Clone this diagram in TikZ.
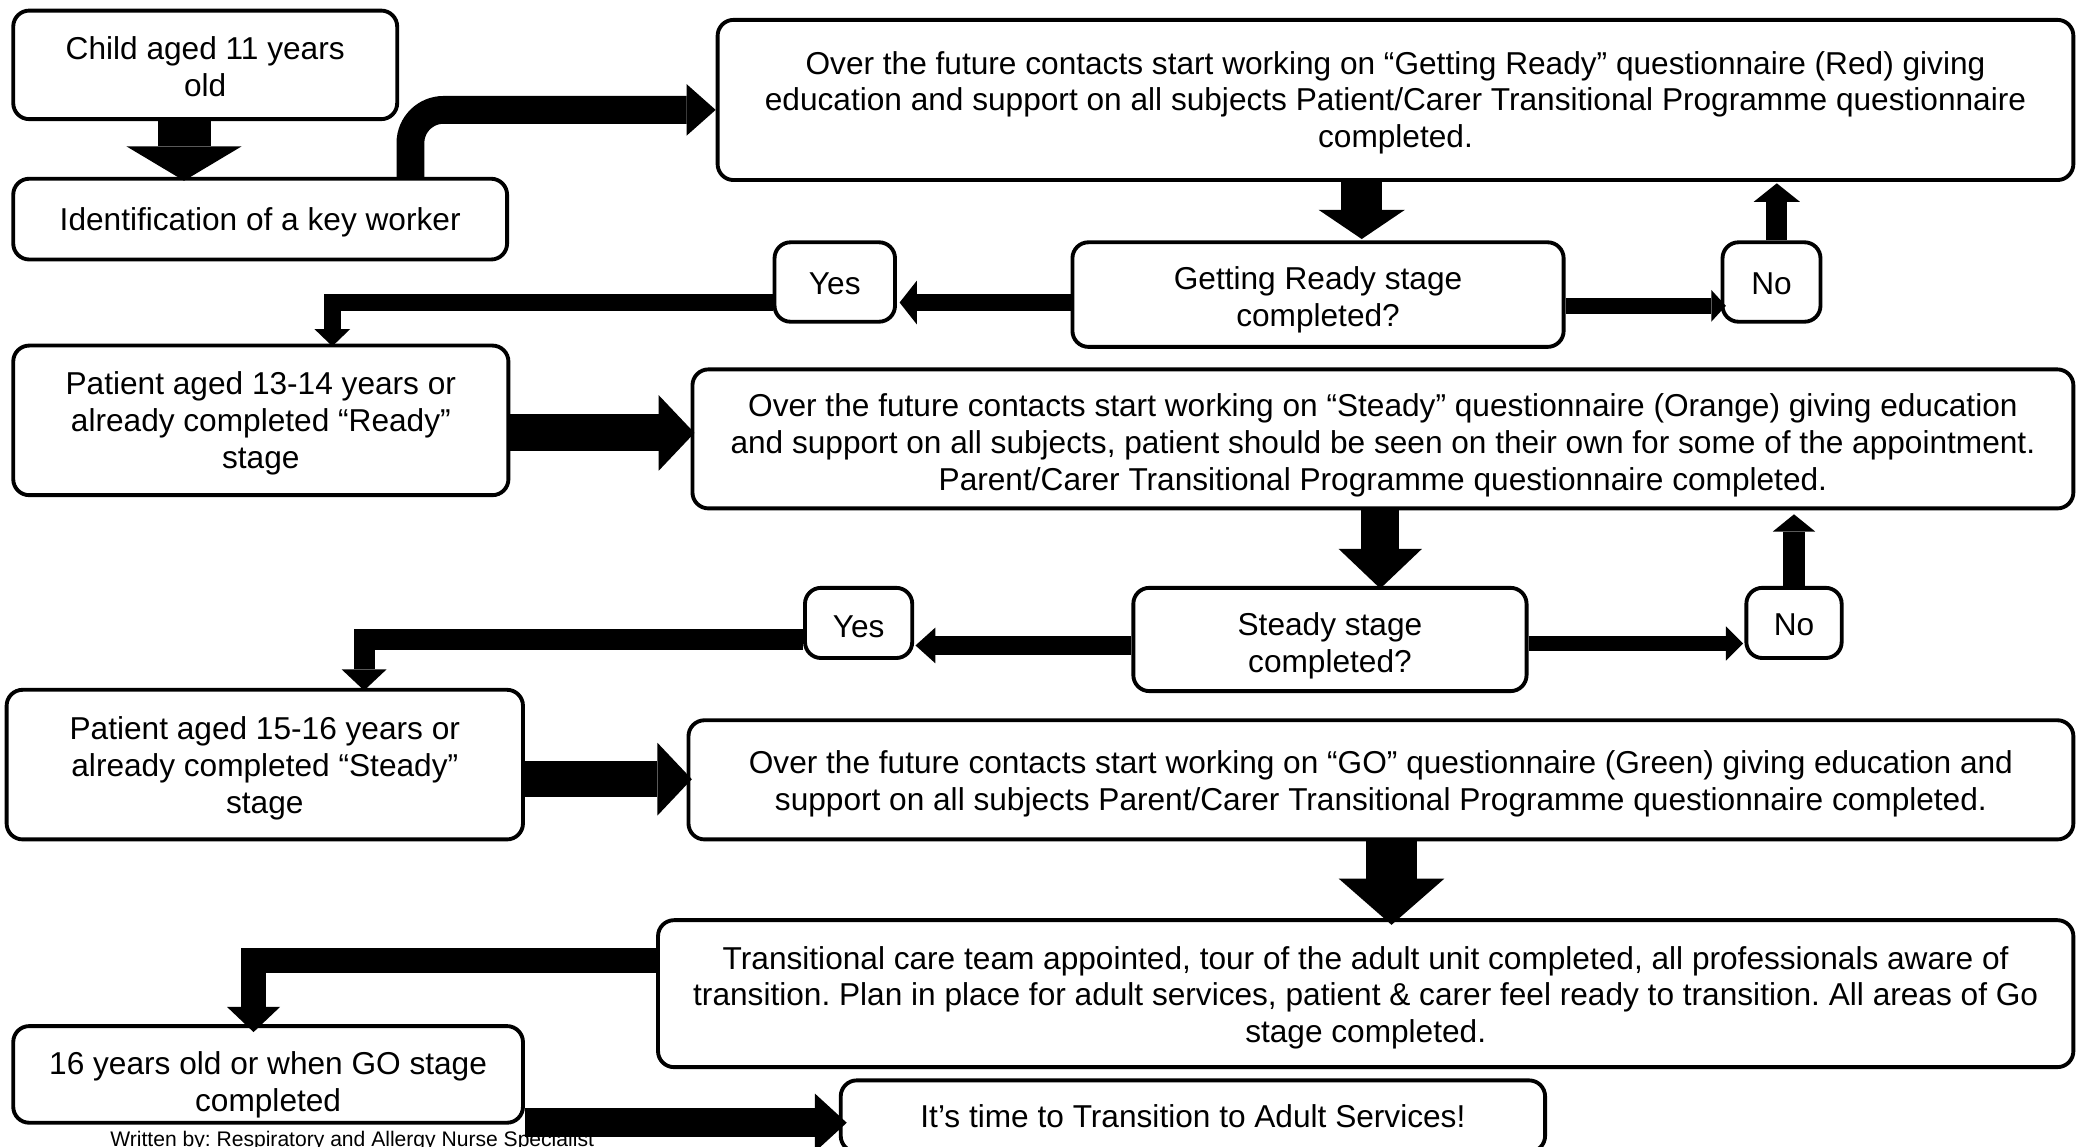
\documentclass[tikz,border=0pt]{standalone}
\usepackage{fontspec}
\setmainfont{Liberation Sans}
\usetikzlibrary{arrows.meta,calc}
\frenchspacing
\newlength\pxu
\setlength\pxu{0.1324mm}
\tikzset{
  box/.style={draw, line width=1.1pt, rounded corners=1.6mm, align=center, inner sep=0pt,
    font=\fontsize{9}{10.5}\selectfont},
  down/.code 2 args={%
    \pgfmathsetmacro\dnh{6.6+(#1-1)*10.5+#2*0.753414}%
    \edef\dntmp{\noexpand\tikzset{text height=\dnh pt}}%
    \dntmp},
  fat/.code n args={3}{%
    \pgfmathsetmacro\fatw{#1*0.376707}%
    \pgfmathsetmacro\fath{#2*0.376707}%
    \pgfmathsetmacro\fatl{#3*0.376707}%
    \edef\fattmp{\noexpand\tikzset{line width=\fatw pt,
      -{Triangle[width=\fath pt, length=\fatl pt, line width=0pt]}}}%
    \fattmp},
}
\begin{document}
\begin{tikzpicture}[x=0.1324mm, y=-0.1324mm]
    \useasboundingbox (0,0) rectangle (1568,866);
    \clip (0,0) rectangle (1568,866);

    \node[box, down={2}{1}, minimum width=290\pxu, minimum height=82\pxu] (child) at (155,49) {Child aged 11 years\\old};
    \node[box, down={1}{2}, minimum width=373\pxu, minimum height=61\pxu] (key) at (196.5,165.5) {Identification of a key worker};
    \node[box, down={3}{2}, minimum width=1024\pxu, minimum height=121\pxu] (r1) at (1054,75.5) {Over the future contacts start working on “Getting Ready” questionnaire (Red) giving\\education and support on all subjects Patient/Carer Transitional Programme questionnaire\\completed.};
    \node[box, down={2}{4}, minimum width=371\pxu, minimum height=79\pxu] (grs) at (995.5,222.5) {Getting Ready stage\\completed?};
    \node[box, down={1}{1}, minimum width=91\pxu, minimum height=60\pxu] (yes1) at (630.5,213) {Yes};
    \node[box, down={1}{1}, minimum width=74\pxu, minimum height=60\pxu] (no1) at (1338,213) {No};

    \node[box, down={3}{2}, minimum width=374\pxu, minimum height=113\pxu] (p13) at (197,317.5) {Patient aged 13-14 years or\\already completed “Ready”\\stage};
    \node[box, down={3}{5}, minimum width=1043\pxu, minimum height=105\pxu] (r2) at (1044.5,331.5) {Over the future contacts start working on “Steady” questionnaire (Orange) giving education\\and support on all subjects, patient should be seen on their own for some of the appointment.\\Parent/Carer Transitional Programme questionnaire completed.};
    \node[box, down={2}{5}, minimum width=297\pxu, minimum height=78\pxu] (sts) at (1004.5,483) {Steady stage\\completed?};
    \node[box, down={1}{2}, minimum width=81\pxu, minimum height=53\pxu] (yes2) at (648.5,470.5) {Yes};
    \node[box, down={1}{1}, minimum width=72\pxu, minimum height=53\pxu] (no2) at (1355,470.5) {No};

    \node[box, down={3}{3}, minimum width=390\pxu, minimum height=113\pxu] (p15) at (200,577.5) {Patient aged 15-16 years or\\already completed “Steady”\\stage};
    \node[box, down={2}{3}, minimum width=1046\pxu, minimum height=90\pxu] (r3) at (1043,589) {Over the future contacts start working on “GO” questionnaire (Green) giving education and\\support on all subjects Parent/Carer Transitional Programme questionnaire completed.};
    \node[box, down={3}{3}, minimum width=1069\pxu, minimum height=111\pxu] (tct) at (1031.5,750.5) {Transitional care team appointed, tour of the adult unit completed, all professionals aware of\\transition. Plan in place for adult services, patient \& carer feel ready to transition. All areas of Go\\stage completed.};
    \node[box, down={2}{8}, minimum width=385\pxu, minimum height=73\pxu] (p16) at (202.5,811.5) {16 years old or when GO stage\\completed};
    \node[box, down={1}{0}, minimum width=532\pxu, minimum height=54\pxu] (adult) at (901,843) {It’s time to Transition to Adult Services!};
    \node[anchor=base, inner sep=0pt, font=\fontsize{6}{7}\selectfont] (footer) at (266,866) {Written by: Respiratory and Allergy Nurse Specialist};

    \draw[fat={40}{87}{26}] ($(child.south)+(-16,0)$) -- ($(key.north)+(-57.5,3)$);
    \draw[fat={21}{39}{22}, rounded corners=25\pxu] ($(key.north)+(113.5,0)$) |- ($(r1.west)+(0,7.5)$);
    \draw[fat={31}{65}{22}] ($(r1.south)+(-25.5,0)$) -- ($(grs.north)+(33,-1)$);
    \draw[fat={13}{33}{13}] ($(grs.west)+(0,6)$) -- ($(yes1.east)+(2,15.5)$);
    \draw[fat={13}{27}{13}] ($(yes1.west)+(0,15.5)$) -| ($(p13.north)+(54,2)$);
    \draw[fat={12}{24}{11}] ($(grs.east)+(0,8.5)$) -- ($(no1.west)+(4,18)$);
    \draw[fat={16}{35}{14}] ($(no1.north)+(4,0)$) -- ($(r1.south)+(288,1)$);

    \draw[fat={28}{57}{27}] ($(p13.east)+(0,9.5)$) -- ($(r2.west)+(3,-4.5)$);
    \draw[fat={29}{63}{30}] ($(r2.south)+(-2,0)$) -- ($(sts.north)+(38,2)$);
    \draw[fat={15}{27}{15}] ($(sts.west)+(0,4.5)$) -- ($(yes2.east)+(1,17)$);
    \draw[fat={16}{34}{16}] ($(yes2.west)+(0,12.5)$) -| ($(p15.north)+(75,2)$);
    \draw[fat={12}{26}{13}] ($(sts.east)+(0,3)$) -- ($(no2.west)+(-1,15.5)$);
    \draw[fat={16}{32}{13}] (no2.north) -- ($(r2.south)+(310.5,3)$);

    \draw[fat={27}{55}{26}] ($(p15.east)+(0,11)$) -- ($(r3.west)+(4,-0.5)$);
    \draw[fat={38}{80}{35}] ($(r3.south)+(8,0)$) -- ($(tct.north)+(19.5,5)$);
    \draw[fat={19}{40}{19}] ($(tct.west)+(0,-25)$) -| ($(p16.north)+(-11,6)$);
    \draw[fat={22}{44}{24}] ($(p16.east)+(0,36.5)$) -- ($(adult.west)+(6,5)$);
\end{tikzpicture}
\end{document}
